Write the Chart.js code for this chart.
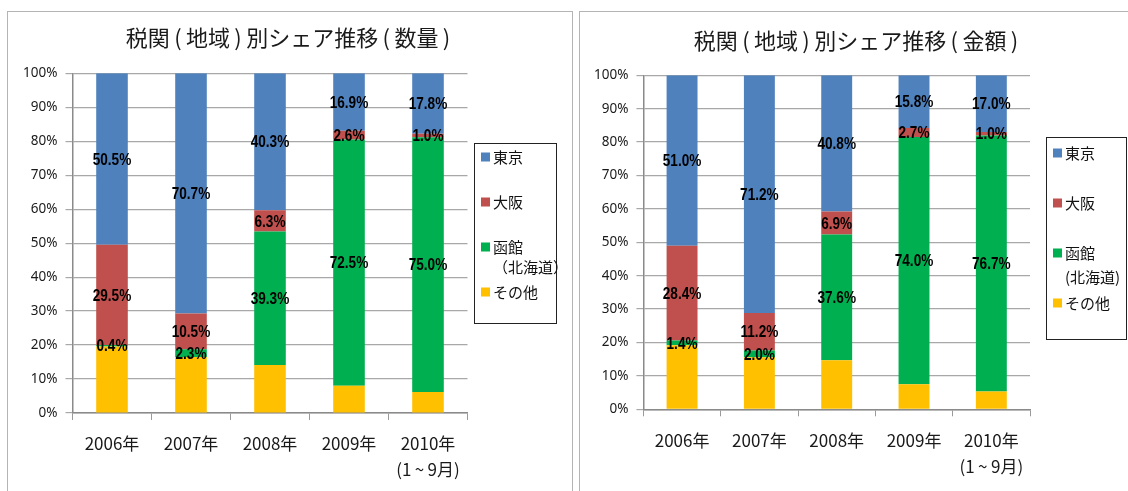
<!DOCTYPE html>
<html>
<head>
<meta charset="utf-8">
<script src="https://cdn.jsdelivr.net/npm/chart.js@4/dist/chart.umd.min.js"></script>
<style>
  html, body { margin: 0; padding: 0; background: #fff; }
  body { position: relative; width: 1128px; height: 491px; overflow: hidden; }
  .panel { position: absolute; top: 11px; height: 520px; border: 1.5px solid #b4b4b4; border-bottom: none; }
  canvas { position: absolute; top: 0; }
</style>
</head>
<body>
<div class="panel" style="left:7px; width:564px;"></div>
<div class="panel" style="left:579px; width:600px;"></div>
<canvas id="qtyChart" width="577" height="491" style="left:0"></canvas>
<canvas id="valChart" width="551" height="491" style="left:577px"></canvas>
<script>
// categories / tick labels
const categories = ['2006年', '2007年', '2008年', '2009年', ['2010年', '(1\u2009~\u20099月)']];
const seriesNames = ['その他', '函館(北海道)', '大阪', '東京'];
const seriesColors = ['#FFC000', '#00B050', '#C0504D', '#4F81BD'];
const yTicks = [0, 10, 20, 30, 40, 50, 60, 70, 80, 90, 100];

// 数量 (quantity) shares, %
const qtyTokyo    = [50.5, 70.7, 40.3, 16.9, 17.8];
const qtyOsaka    = [29.5, 10.5,  6.3,  2.6,  1.0];
const qtyHakodate = [ 0.4,  2.3, 39.3, 72.5, 75.0];
const qtyOther    = [19.6, 16.5, 14.1,  8.0,  6.2];

// 金額 (value) shares, %
const valTokyo    = [51.0, 71.2, 40.8, 15.8, 17.0];
const valOsaka    = [28.4, 11.2,  6.9,  2.7,  1.0];
const valHakodate = [ 1.4,  2.0, 37.6, 74.0, 76.7];
const valOther    = [19.2, 15.6, 14.7,  7.5,  5.3];

const legendOrder = [3, 2, 1, 0];

// title, data labels and the boxed legend
const decor = {
  id: 'decor',
  afterDraw(chart, args, opts) {
    const ctx = chart.ctx;
    ctx.save();
    ctx.fillStyle = '#1a1a1a';
    ctx.textAlign = 'center';
    ctx.textBaseline = 'middle';
    ctx.font = '22px "Noto Sans CJK JP"';
    ctx.fillText(opts.title, opts.titleX, opts.titleY);

    // value labels (not for その他), squeezed to look condensed
    ctx.font = 'bold 17px "Liberation Sans", sans-serif';
    ctx.fillStyle = '#000';
    chart.data.datasets.forEach((ds, i) => {
      if (!ds.showLabel) return;
      chart.getDatasetMeta(i).data.forEach((el, j) => {
        const y = (el.y + el.base) / 2;
        ctx.save();
        ctx.translate(el.x, y + 1);
        ctx.scale(0.8, 1);
        ctx.fillText(ds.data[j].toFixed(1) + '%', 0, 0);
        ctx.restore();
      });
    });

    // legend
    const L = opts.legend;
    ctx.strokeStyle = '#222';
    ctx.lineWidth = 1;
    ctx.strokeRect(L.x + 0.5, L.y + 0.5, L.w, L.h);
    ctx.textAlign = 'left';
    ctx.font = '15px "Noto Sans CJK JP"';
    legendOrder.forEach((dsIndex, k) => {
      const ds = chart.data.datasets[dsIndex];
      const y = L.rows[k];
      ctx.fillStyle = ds.backgroundColor;
      ctx.fillRect(L.x + 7, y - 4.5, 9, 9);
      ctx.fillStyle = '#111';
      L.lines[k].forEach((line, li) => ctx.fillText(line, L.x + 19, y + li * L.gap));
    });
    ctx.restore();
  }
};

function makeDatasets(other, hakodate, osaka, tokyo) {
  const values = [other, hakodate, osaka, tokyo];
  return values.map((data, i) => ({
    label: seriesNames[i],
    data: data,
    backgroundColor: seriesColors[i],
    borderWidth: 0,
    barPercentage: 0.4,
    categoryPercentage: 1,
    showLabel: i > 0
  }));
}

function makeChart(id, datasets, pad, decorOpts) {
  new Chart(document.getElementById(id).getContext('2d'), {
    type: 'bar',
    data: { labels: categories, datasets: datasets },
    options: {
      responsive: false,
      animation: false,
      layout: { padding: pad },
      plugins: {
        legend: { display: false },
        title: { display: false },
        tooltip: { enabled: false },
        decor: decorOpts
      },
      scales: {
        x: {
          stacked: true,
          afterFit: (s) => { s.height = 70; },
          grid: { drawOnChartArea: false, drawTicks: true, tickLength: 7, color: '#9a9a9a', offset: true },
          border: { color: '#8a8a8a', width: 1.5 },
          ticks: { color: '#1a1a1a', padding: 11, font: { family: '"Noto Sans CJK JP"', size: 17, lineHeight: 1.53 } }
        },
        y: {
          stacked: true,
          min: 0,
          max: 100,
          afterFit: (s) => { s.width = 50; },
          afterBuildTicks: (s) => { s.ticks = yTicks.map(v => ({ value: v })); },
          grid: { color: '#a8a8a8', lineWidth: 1.2, tickLength: 7 },
          border: { color: '#8a8a8a', width: 1.5 },
          ticks: { color: '#1a1a1a', padding: 8, font: { family: '"Noto Sans"', size: 13.5 },
                   callback: (v) => v + '%' }
        }
      }
    },
    plugins: [decor]
  });
}

makeChart('qtyChart', makeDatasets(qtyOther, qtyHakodate, qtyOsaka, qtyTokyo),
  { left: 22.5, right: 109.5, top: 73.3, bottom: 8 },
  {
    title: '税関\u2009(\u2009地域\u2009)\u2009別シェア推移\u2009(\u2009数量\u2009)', titleX: 288, titleY: 38,
    legend: { x: 474, y: 143, w: 82, h: 180, rows: [157, 202, 247, 292], gap: 20,
              lines: [['東京'], ['大阪'], ['函館', '（北海道）'], ['その他']] }
  });

makeChart('valChart', makeDatasets(valOther, valHakodate, valOsaka, valTokyo),
  { left: 16.4, right: 98, top: 75.3, bottom: 11.7 },
  {
    title: '税関\u2009(\u2009地域\u2009)\u2009別シェア推移\u2009(\u2009金額\u2009)', titleX: 279, titleY: 41,
    legend: { x: 469, y: 137, w: 80, h: 202, rows: [153, 203, 253, 303], gap: 24,
              lines: [['東京'], ['大阪'], ['函館', '(北海道)'], ['その他']] }
  });
</script>
</body>
</html>
